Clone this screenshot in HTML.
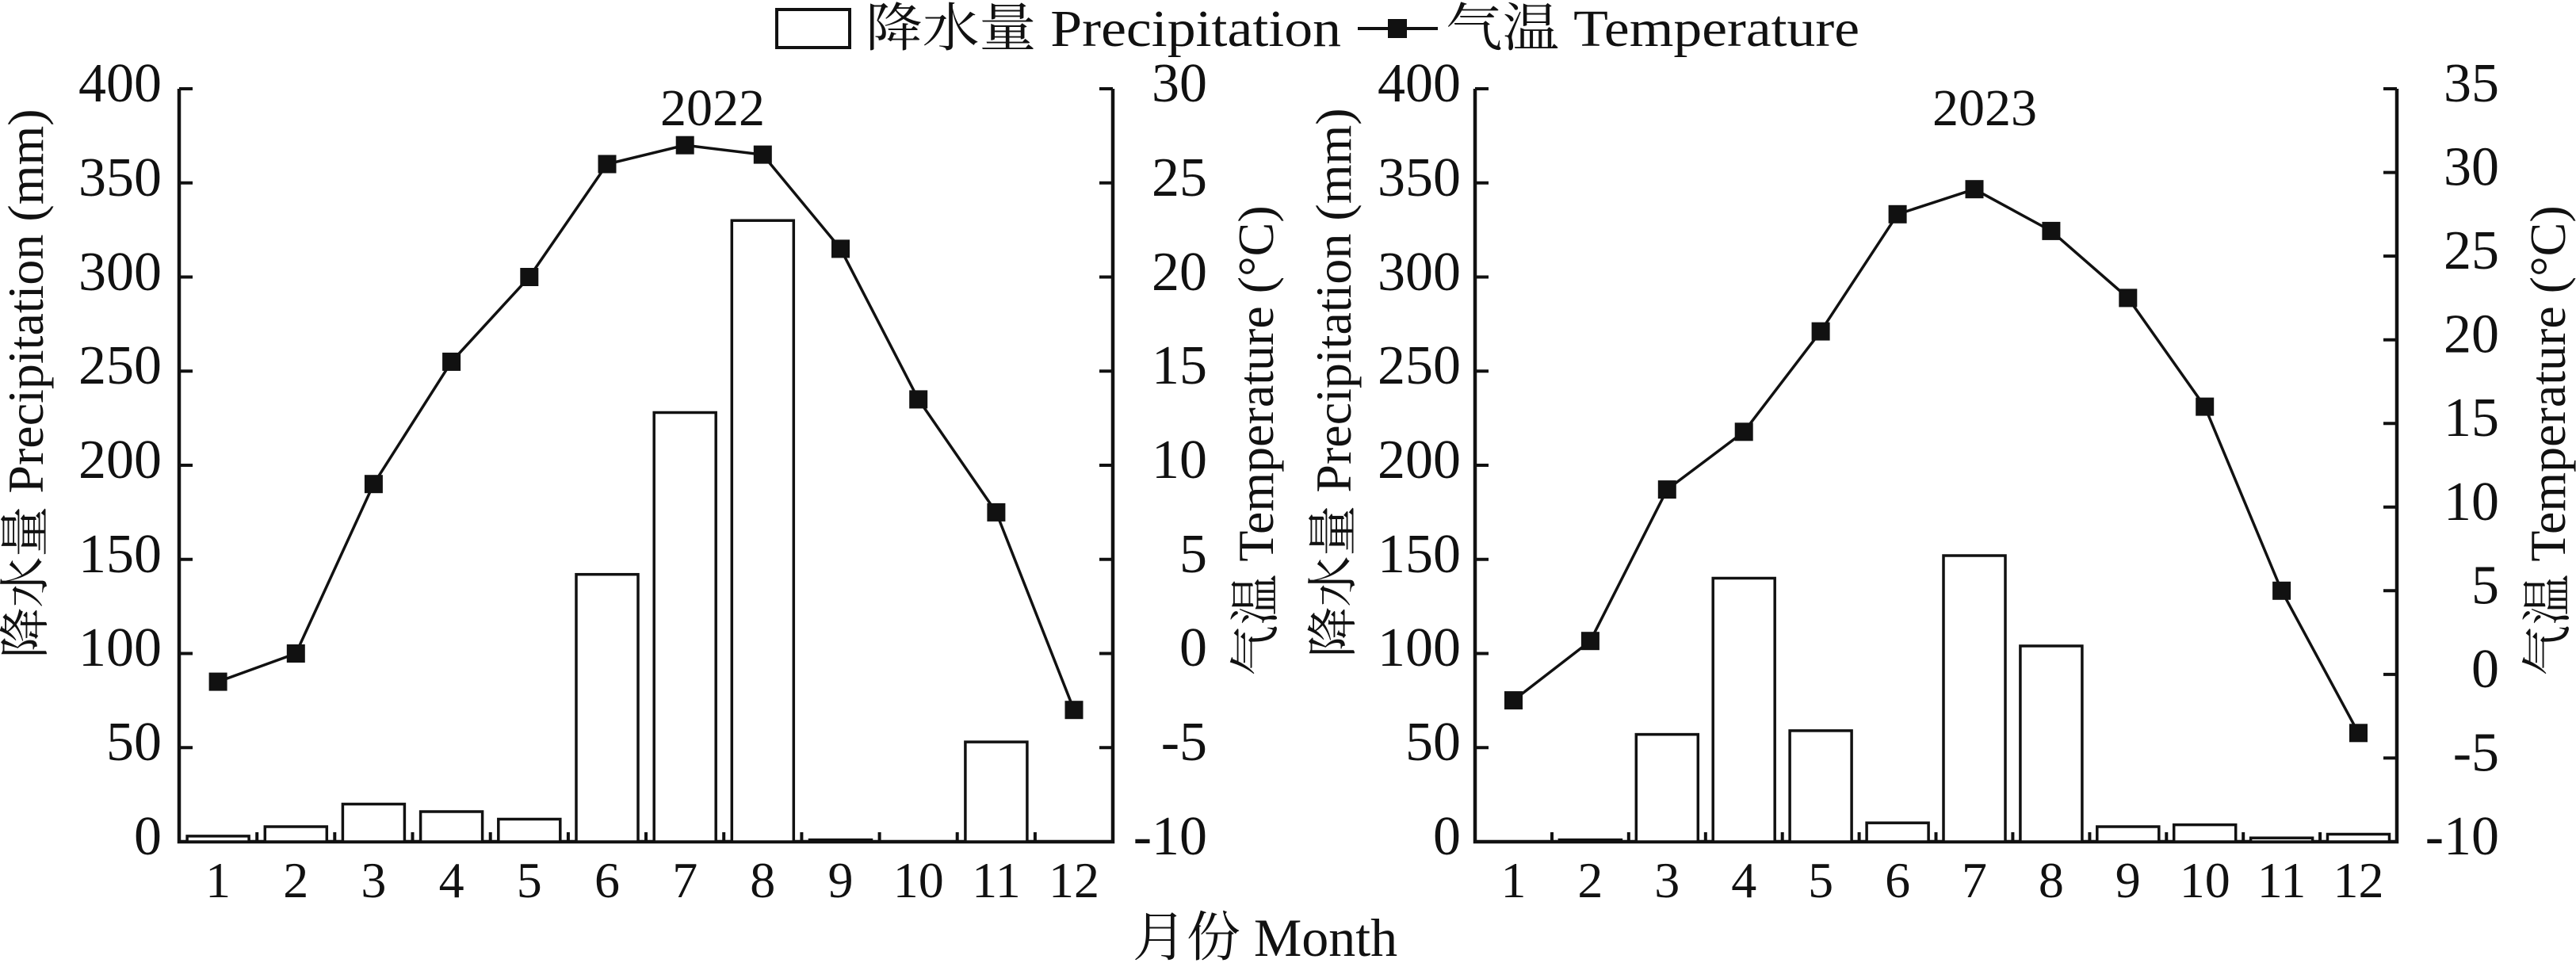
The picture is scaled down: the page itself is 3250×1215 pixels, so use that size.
<!DOCTYPE html>
<html><head><meta charset="utf-8"><style>
html,body{margin:0;padding:0;background:#fff}
svg{display:block}
text{font-family:"Liberation Serif","Noto Serif CJK SC","Noto Sans CJK SC",serif;fill:#111}
</style></head><body>
<svg width="3250" height="1215" viewBox="0 0 3250 1215" xmlns="http://www.w3.org/2000/svg">
<rect x="980" y="12" width="92" height="48" fill="#fff" stroke="#111" stroke-width="4"/>
<text x="1092" y="58" font-size="66" textLength="600" lengthAdjust="spacingAndGlyphs">降水量 Precipitation</text>
<line x1="1713" y1="36" x2="1814" y2="36" stroke="#111" stroke-width="4"/>
<rect x="1751" y="24" width="24" height="24" fill="#111"/>
<text x="1824" y="58" font-size="66" textLength="522" lengthAdjust="spacingAndGlyphs">气温 Temperature</text>

<g stroke="#111" fill="none" stroke-width="4.5">
<polyline points="226,112 226,1062 1404,1062 1404,112"/>
</g>
<g stroke="#111" stroke-width="4">
<line x1="226" y1="112" x2="243" y2="112"/><line x1="226" y1="230.75" x2="243" y2="230.75"/><line x1="226" y1="349.5" x2="243" y2="349.5"/><line x1="226" y1="468.25" x2="243" y2="468.25"/><line x1="226" y1="587" x2="243" y2="587"/><line x1="226" y1="705.75" x2="243" y2="705.75"/><line x1="226" y1="824.5" x2="243" y2="824.5"/><line x1="226" y1="943.25" x2="243" y2="943.25"/>
<line x1="1404" y1="112" x2="1387" y2="112"/><line x1="1404" y1="230.75" x2="1387" y2="230.75"/><line x1="1404" y1="349.5" x2="1387" y2="349.5"/><line x1="1404" y1="468.25" x2="1387" y2="468.25"/><line x1="1404" y1="587" x2="1387" y2="587"/><line x1="1404" y1="705.75" x2="1387" y2="705.75"/><line x1="1404" y1="824.5" x2="1387" y2="824.5"/><line x1="1404" y1="943.25" x2="1387" y2="943.25"/>
<line x1="324.2" y1="1062" x2="324.2" y2="1050"/><line x1="422.3" y1="1062" x2="422.3" y2="1050"/><line x1="520.5" y1="1062" x2="520.5" y2="1050"/><line x1="618.7" y1="1062" x2="618.7" y2="1050"/><line x1="716.9" y1="1062" x2="716.9" y2="1050"/><line x1="815" y1="1062" x2="815" y2="1050"/><line x1="913.2" y1="1062" x2="913.2" y2="1050"/><line x1="1011.4" y1="1062" x2="1011.4" y2="1050"/><line x1="1109.6" y1="1062" x2="1109.6" y2="1050"/><line x1="1207.7" y1="1062" x2="1207.7" y2="1050"/><line x1="1305.9" y1="1062" x2="1305.9" y2="1050"/>
</g>
<g fill="#fff" stroke="#111" stroke-width="3.5">
<rect x="236.1" y="1054.9" width="78" height="7.1"/>
<rect x="334.3" y="1043" width="78" height="19"/>
<rect x="432.4" y="1014.5" width="78" height="47.5"/>
<rect x="530.6" y="1024" width="78" height="38"/>
<rect x="628.8" y="1033.5" width="78" height="28.5"/>
<rect x="727" y="724.7" width="78" height="337.3"/>
<rect x="825.2" y="520.5" width="78" height="541.5"/>
<rect x="923.3" y="278.2" width="78" height="783.8"/>
<rect x="1021.5" y="1059.6" width="78" height="2.4"/>
<rect x="1217.9" y="936.1" width="78" height="125.9"/>
</g>
<polyline fill="none" stroke="#111" stroke-width="3.5" points="275.1,860.1 373.3,824.5 471.4,610.7 569.6,456.4 667.8,349.5 766,207 864.2,183.2 962.3,195.1 1060.5,313.9 1158.7,503.9 1256.9,646.4 1355,895.7"/>
<g fill="#111">
<rect x="263.6" y="848.6" width="23" height="23"/><rect x="361.8" y="813" width="23" height="23"/><rect x="459.9" y="599.2" width="23" height="23"/><rect x="558.1" y="444.9" width="23" height="23"/><rect x="656.3" y="338" width="23" height="23"/><rect x="754.5" y="195.5" width="23" height="23"/><rect x="852.7" y="171.7" width="23" height="23"/><rect x="950.8" y="183.6" width="23" height="23"/><rect x="1049" y="302.4" width="23" height="23"/><rect x="1147.2" y="492.4" width="23" height="23"/><rect x="1245.4" y="634.9" width="23" height="23"/><rect x="1343.5" y="884.2" width="23" height="23"/>
</g>
<g font-size="70" text-anchor="end">
<text x="204" y="128">400</text><text x="204" y="247">350</text><text x="204" y="366">300</text><text x="204" y="484">250</text><text x="204" y="603">200</text><text x="204" y="722">150</text><text x="204" y="840">100</text><text x="204" y="959">50</text><text x="204" y="1078">0</text>
<text x="1523" y="128">30</text><text x="1523" y="247">25</text><text x="1523" y="366">20</text><text x="1523" y="484">15</text><text x="1523" y="603">10</text><text x="1523" y="722">5</text><text x="1523" y="840">0</text><text x="1523" y="959">-5</text><text x="1523" y="1078">-10</text>
</g>
<g font-size="64" text-anchor="middle">
<text x="275.1" y="1132">1</text><text x="373.3" y="1132">2</text><text x="471.4" y="1132">3</text><text x="569.6" y="1132">4</text><text x="667.8" y="1132">5</text><text x="766" y="1132">6</text><text x="864.2" y="1132">7</text><text x="962.3" y="1132">8</text><text x="1060.5" y="1132">9</text><text x="1158.7" y="1132">10</text><text x="1256.9" y="1132">11</text><text x="1355" y="1132">12</text>
</g>
<text x="899" y="158" font-size="66" text-anchor="middle">2022</text>
<text transform="translate(54,484) rotate(-90)" font-size="64" text-anchor="middle">降水量 Precipitation (mm)</text>
<text transform="translate(1606,556) rotate(-90)" font-size="64" text-anchor="middle">气温 Temperature (°C)</text>

<g stroke="#111" fill="none" stroke-width="4.5">
<polyline points="1861,112 1861,1062 3024,1062 3024,112"/>
</g>
<g stroke="#111" stroke-width="4">
<line x1="1861" y1="112" x2="1878" y2="112"/><line x1="1861" y1="230.75" x2="1878" y2="230.75"/><line x1="1861" y1="349.5" x2="1878" y2="349.5"/><line x1="1861" y1="468.25" x2="1878" y2="468.25"/><line x1="1861" y1="587" x2="1878" y2="587"/><line x1="1861" y1="705.75" x2="1878" y2="705.75"/><line x1="1861" y1="824.5" x2="1878" y2="824.5"/><line x1="1861" y1="943.25" x2="1878" y2="943.25"/>
<line x1="3024" y1="112" x2="3007" y2="112"/><line x1="3024" y1="217.6" x2="3007" y2="217.6"/><line x1="3024" y1="323.1" x2="3007" y2="323.1"/><line x1="3024" y1="428.7" x2="3007" y2="428.7"/><line x1="3024" y1="534.2" x2="3007" y2="534.2"/><line x1="3024" y1="639.8" x2="3007" y2="639.8"/><line x1="3024" y1="745.3" x2="3007" y2="745.3"/><line x1="3024" y1="850.9" x2="3007" y2="850.9"/><line x1="3024" y1="956.4" x2="3007" y2="956.4"/>
<line x1="1958" y1="1062" x2="1958" y2="1050"/><line x1="2054.8" y1="1062" x2="2054.8" y2="1050"/><line x1="2151.8" y1="1062" x2="2151.8" y2="1050"/><line x1="2248.7" y1="1062" x2="2248.7" y2="1050"/><line x1="2345.6" y1="1062" x2="2345.6" y2="1050"/><line x1="2442.5" y1="1062" x2="2442.5" y2="1050"/><line x1="2539.4" y1="1062" x2="2539.4" y2="1050"/><line x1="2636.4" y1="1062" x2="2636.4" y2="1050"/><line x1="2733.3" y1="1062" x2="2733.3" y2="1050"/><line x1="2830.2" y1="1062" x2="2830.2" y2="1050"/><line x1="2927.1" y1="1062" x2="2927.1" y2="1050"/>
</g>
<g fill="#fff" stroke="#111" stroke-width="3.5">
<rect x="1967.4" y="1059.6" width="78" height="2.4"/>
<rect x="2064.3" y="926.6" width="78" height="135.4"/>
<rect x="2161.2" y="729.5" width="78" height="332.5"/>
<rect x="2258.1" y="921.9" width="78" height="140.1"/>
<rect x="2355.1" y="1038.2" width="78" height="23.8"/>
<rect x="2452" y="701" width="78" height="361"/>
<rect x="2548.9" y="815" width="78" height="247"/>
<rect x="2645.8" y="1043" width="78" height="19"/>
<rect x="2742.7" y="1040.6" width="78" height="21.4"/>
<rect x="2839.6" y="1057.2" width="78" height="4.8"/>
<rect x="2936.5" y="1052.5" width="78" height="9.5"/>
</g>
<polyline fill="none" stroke="#111" stroke-width="3.5" points="1909.5,883.6 2006.4,808.7 2103.3,617.6 2200.2,544.8 2297.1,418.1 2394.1,270.3 2491,238.7 2587.9,291.4 2684.8,375.9 2781.7,513.1 2878.6,745.3 2975.5,924.8"/>
<g fill="#111">
<rect x="1898" y="872.1" width="23" height="23"/><rect x="1994.9" y="797.2" width="23" height="23"/><rect x="2091.8" y="606.1" width="23" height="23"/><rect x="2188.7" y="533.3" width="23" height="23"/><rect x="2285.6" y="406.6" width="23" height="23"/><rect x="2382.6" y="258.8" width="23" height="23"/><rect x="2479.5" y="227.2" width="23" height="23"/><rect x="2576.4" y="279.9" width="23" height="23"/><rect x="2673.3" y="364.4" width="23" height="23"/><rect x="2770.2" y="501.6" width="23" height="23"/><rect x="2867.1" y="733.8" width="23" height="23"/><rect x="2964" y="913.3" width="23" height="23"/>
</g>
<g font-size="70" text-anchor="end">
<text x="1843" y="128">400</text><text x="1843" y="247">350</text><text x="1843" y="366">300</text><text x="1843" y="484">250</text><text x="1843" y="603">200</text><text x="1843" y="722">150</text><text x="1843" y="840">100</text><text x="1843" y="959">50</text><text x="1843" y="1078">0</text>
<text x="3153" y="128">35</text><text x="3153" y="233.6">30</text><text x="3153" y="339.1">25</text><text x="3153" y="444.7">20</text><text x="3153" y="550.2">15</text><text x="3153" y="655.8">10</text><text x="3153" y="761.3">5</text><text x="3153" y="866.9">0</text><text x="3153" y="972.4">-5</text><text x="3153" y="1078">-10</text>
</g>
<g font-size="64" text-anchor="middle">
<text x="1909.5" y="1132">1</text><text x="2006.4" y="1132">2</text><text x="2103.3" y="1132">3</text><text x="2200.2" y="1132">4</text><text x="2297.1" y="1132">5</text><text x="2394.1" y="1132">6</text><text x="2491" y="1132">7</text><text x="2587.9" y="1132">8</text><text x="2684.8" y="1132">9</text><text x="2781.7" y="1132">10</text><text x="2878.6" y="1132">11</text><text x="2975.5" y="1132">12</text>
</g>
<text x="2504" y="158" font-size="66" text-anchor="middle">2023</text>
<text transform="translate(1704,483) rotate(-90)" font-size="64" text-anchor="middle">降水量 Precipitation (mm)</text>
<text transform="translate(3236,556) rotate(-90)" font-size="64" text-anchor="middle">气温 Temperature (°C)</text>

<text x="1596" y="1206" font-size="68" text-anchor="middle">月份 Month</text>
</svg>
</body></html>
